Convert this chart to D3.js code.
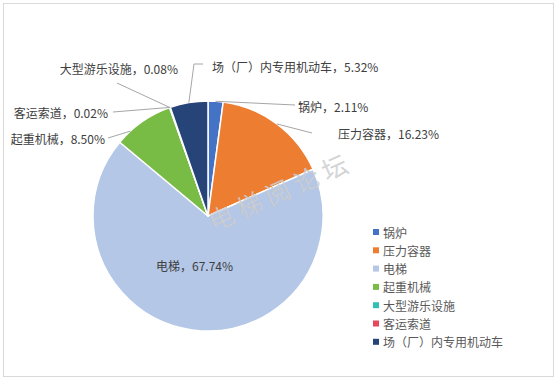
<!DOCTYPE html>
<html>
<head>
<meta charset="utf-8">
<script src="https://cdn.jsdelivr.net/npm/d3@7"></script>
<style>
  body { margin: 0; background: #fff; }
  text { font-family: "Noto Sans CJK SC", "Noto Sans", sans-serif; }
</style>
</head>
<body>
<svg id="chart" width="559" height="383"></svg>
<script>
// 各类特种设备占比 (%)
var categories = ['锅炉', '压力容器', '电梯', '起重机械', '大型游乐设施', '客运索道', '场（厂）内专用机动车'];
var values = [2.11, 16.23, 67.74, 8.50, 0.08, 0.02, 5.32];
var colors = ['#4472C4', '#ED7D31', '#B4C7E7', '#78BB45', '#33C0B4', '#E6485D', '#264478'];

// label placement: text x, y, anchor, leader line points (label side), fraction of slice for line end
var labelPos = [
  {x: 298, y: 106, a: 'start', line: [[295, 105]], f: 0.5},
  {x: 338, y: 133, a: 'start', line: [[312, 133]], f: 0.5},
  {x: 156, y: 265, a: 'start', line: null, f: 0.5},
  {x: 105, y: 138, a: 'end', line: [[108, 138]], f: 0.25},
  {x: 178, y: 68, a: 'end', line: [[117, 83]], f: 0.5},
  {x: 108, y: 112, a: 'end', line: [[113, 112]], f: 0.5},
  {x: 212, y: 66, a: 'start', line: [[203, 64], [194, 64]], f: 0.5}
];

var svg = d3.select('#chart');
svg.append('rect')
  .attr('x', 3.5).attr('y', 3.5)
  .attr('width', 550).attr('height', 373)
  .attr('fill', '#fff').attr('stroke', '#d9d9d9');

var cx = 208, cy = 216, r = 115;
var pie = d3.pie().sort(null).value(function(d){ return d; });
var arcs = pie(values);
var arc = d3.arc().innerRadius(0).outerRadius(r);

var g = svg.append('g').attr('transform', 'translate(' + cx + ',' + cy + ')');
g.selectAll('path')
  .data(arcs)
  .enter().append('path')
  .attr('d', arc)
  .attr('fill', function(d, i){ return colors[i]; })
  .attr('stroke', '#fff')
  .attr('stroke-width', 1.5)
  .attr('stroke-linejoin', 'round');

// watermark
svg.append('text')
  .attr('transform', 'translate(280,190) rotate(-24)')
  .attr('text-anchor', 'middle')
  .attr('dominant-baseline', 'central')
  .attr('font-size', 25)
  .attr('font-weight', 300)
  .attr('letter-spacing', 6)
  .attr('fill', '#d4d7dc')
  .attr('stroke', '#c4c4c4')
  .attr('stroke-width', 0.4)
  .attr('fill-opacity', 0.85)
  .text('电梯阅论坛');

// leader lines
arcs.forEach(function(d, i){
  var lp = labelPos[i];
  if (!lp.line) return;
  var ang = d.startAngle + (d.endAngle - d.startAngle) * lp.f;
  var pts = lp.line.slice();
  pts.push([cx + r * Math.sin(ang), cy - r * Math.cos(ang)]);
  svg.append('path')
    .attr('d', d3.line()(pts))
    .attr('fill', 'none')
    .attr('stroke', '#a6a6a6')
    .attr('stroke-width', 1);
});

// data labels
svg.selectAll('.lbl')
  .data(arcs)
  .enter().append('text')
  .attr('class', 'lbl')
  .attr('x', function(d, i){ return labelPos[i].x; })
  .attr('y', function(d, i){ return labelPos[i].y; })
  .attr('text-anchor', function(d, i){ return labelPos[i].a; })
  .attr('dominant-baseline', 'central')
  .attr('font-size', 12)
  .attr('fill', '#404040')
  .text(function(d, i){ return categories[i] + '，' + values[i].toFixed(2) + '%'; });

// legend
var legend = svg.append('g').attr('transform', 'translate(373,232)');
var ly = d3.scaleBand().domain(categories).range([0, 7 * 18.3]);
var items = legend.selectAll('g')
  .data(categories)
  .enter().append('g')
  .attr('transform', function(d){ return 'translate(0,' + ly(d) + ')'; });
items.append('rect')
  .attr('x', 0).attr('y', -3)
  .attr('width', 6).attr('height', 6)
  .attr('fill', function(d, i){ return colors[i]; });
items.append('text')
  .attr('x', 10).attr('y', 0)
  .attr('dominant-baseline', 'central')
  .attr('font-size', 12)
  .attr('fill', '#595959')
  .text(function(d){ return d; });
</script>
</body>
</html>
